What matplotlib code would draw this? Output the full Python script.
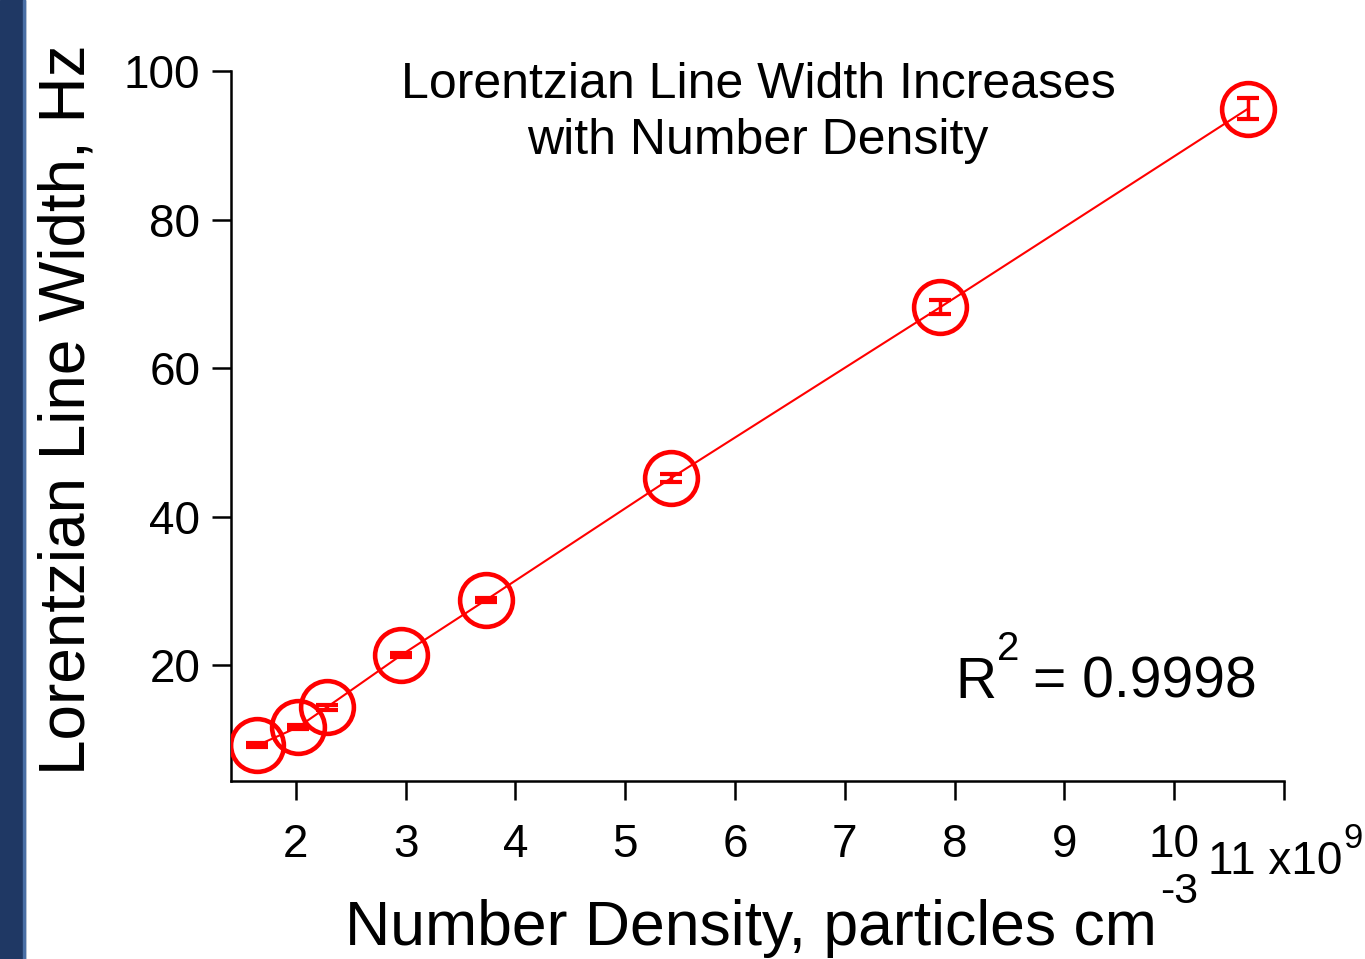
import matplotlib.pyplot as plt
from matplotlib.patches import Rectangle

plt.rcParams['font.family'] = ['Liberation Sans', 'DejaVu Sans']

# number density (x1e9 particles cm^-3) vs lorentzian line width (Hz)
density = [1.65, 2.02, 2.28, 2.96, 3.73, 5.42, 7.87, 10.67]
width = [9.2, 11.65, 14.3, 21.35, 28.75, 45.2, 68.2, 94.9]
width_err = [0.25, 0.25, 0.3, 0.3, 0.3, 0.5, 0.95, 1.4]

xticks = [2, 3, 4, 5, 6, 7, 8, 9, 10, 11]
xticklabels = ['2', '3', '4', '5', '6', '7', '8', '9', '10', '']
yticks = [20, 40, 60, 80, 100]

red = '#ff0000'

fig = plt.figure(figsize=(13.65, 9.59), dpi=100)
fig.patches.append(Rectangle((0, 0), 25 / 1365, 1, transform=fig.transFigure,
                             color='#1f3864', zorder=0))
fig.patches.append(Rectangle((23 / 1365, 0), 2 / 1365, 1, transform=fig.transFigure,
                             color='#4a6fa5', zorder=0))

ax = fig.add_axes([231 / 1365, 1 - 781 / 959, (1284 - 231) / 1365, (781 - 71) / 959])
ax.plot(density, width, color=red, lw=1.5, zorder=2)
ax.plot(density, width, 'o', ms=38, mfc='none', mec=red, mew=3.3, zorder=3)
ax.errorbar(density, width, yerr=width_err, fmt='none', ecolor=red,
            elinewidth=2.5, capsize=8, capthick=3, zorder=4)

ax.set_xlim(1.41, 11.0)
ax.set_ylim(4.4, 100)
ax.set_xticks(xticks)
ax.set_xticklabels(xticklabels)
ax.set_yticks(yticks)
for s in ['top', 'right']:
    ax.spines[s].set_visible(False)
for s in ['left', 'bottom']:
    ax.spines[s].set_linewidth(1.8)
ax.tick_params(direction='out', length=14, width=1.8, labelsize=33)
ax.tick_params(axis='x', pad=16)
ax.tick_params(axis='y', pad=8)

fig.text(758 / 1365, 1 - 113 / 959, 'Lorentzian Line Width Increases\nwith Number Density',
         ha='center', va='center', fontsize=36, linespacing=1.28)

fig.text(955 / 1365, 1 - 698 / 959, 'R', fontsize=41, ha='left', va='baseline')
fig.text(997 / 1365, 1 - 660 / 959, '2', fontsize=29, ha='left', va='baseline')
fig.text(1033 / 1365, 1 - 698 / 959, '= 0.9998', fontsize=41, ha='left', va='baseline')

fig.text(1208 / 1365, 1 - 874 / 959, '11 x10', fontsize=33, ha='left', va='baseline')
fig.text(1343 / 1365, 1 - 848 / 959, '9', fontsize=25, ha='left', va='baseline')

fig.text(345 / 1365, 1 - 945 / 959, 'Number Density, particles cm', fontsize=45,
         ha='left', va='baseline')
fig.text(1160 / 1365, 1 - 903 / 959, '-3', fontsize=31, ha='left', va='baseline')

fig.text(68 / 1365, 1 - 410 / 959, 'Lorentzian Line Width, Hz', fontsize=46,
         rotation=90, ha='center', va='center')

fig.savefig('out.png', dpi=100)
